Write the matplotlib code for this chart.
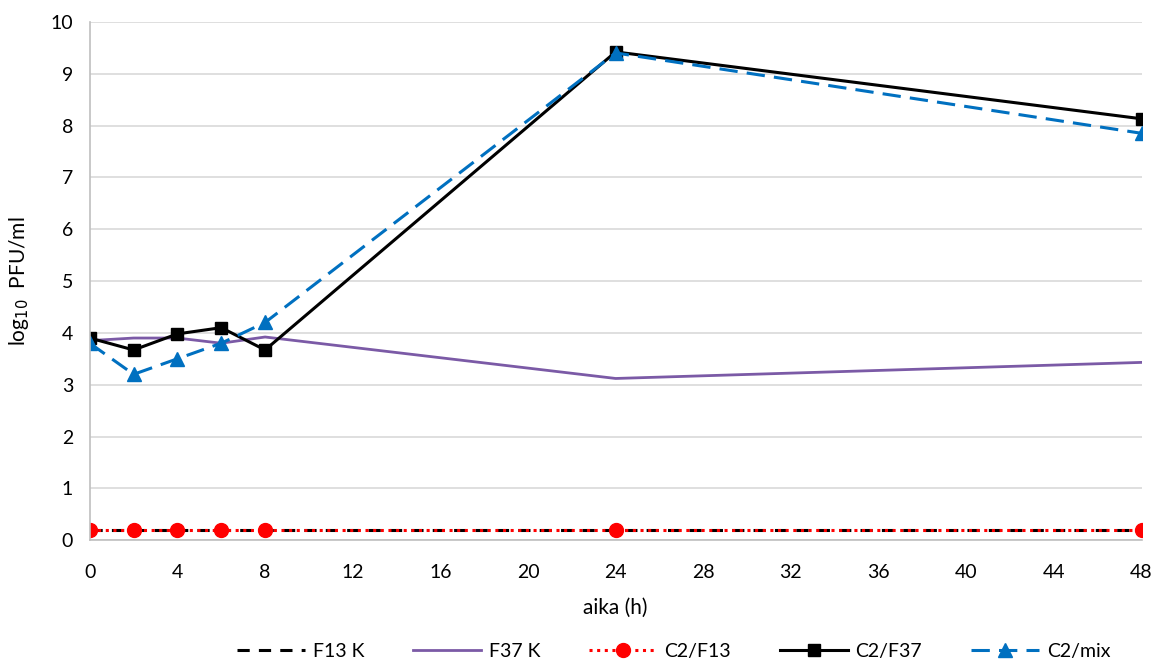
import matplotlib.pyplot as plt

# Phage titres over time (log10 PFU/ml)
hours = [0, 2, 4, 6, 8, 24, 48]
f13_k = [0.2, 0.2, 0.2, 0.2, 0.2, 0.2, 0.2]
f37_k = [3.85, 3.9, 3.9, 3.8, 3.92, 3.12, 3.43]
c2_f13 = [0.2, 0.2, 0.2, 0.2, 0.2, 0.2, 0.2]
c2_f37 = [3.9, 3.67, 3.98, 4.1, 3.67, 9.42, 8.13]
c2_mix = [3.8, 3.2, 3.5, 3.8, 4.2, 9.4, 7.85]

plt.rcParams["font.family"] = ["Lato", "DejaVu Sans"]
plt.rcParams["font.size"] = 12

fig = plt.figure(figsize=(11.66, 6.62), dpi=100)
ax = fig.add_axes([0.077, 0.184, 0.902, 0.783])

ax.plot(hours, f13_k, color="black", lw=2.2, ls=(0, (4, 3)), label="F13 K")
ax.plot(hours, f37_k, color="#7b5aa6", lw=2.0, label="F37 K")
ax.plot(hours, c2_f13, color="red", lw=2.2, ls=(0, (1, 1.5)), marker="o",
        ms=10, label="C2/F13")
ax.plot(hours, c2_f37, color="black", lw=2.2, marker="s", ms=9,
        label="C2/F37")
ax.plot(hours, c2_mix, color="#0070c0", lw=2.2, ls=(0, (6, 3)), marker="^",
        ms=10, label="C2/mix")

ax.set_xlim(0, 48)
ax.set_ylim(0, 10)
ax.set_xticks(range(0, 49, 4))
ax.set_yticks(range(0, 11))
ax.grid(axis="y", color="#d9d9d9", lw=1.2)
ax.set_axisbelow(True)
for side in ["top", "right"]:
    ax.spines[side].set_visible(False)
for side in ["left", "bottom"]:
    ax.spines[side].set_color("#bfbfbf")
    ax.spines[side].set_linewidth(1.2)
ax.tick_params(axis="y", length=0, pad=12, labelsize=14)
ax.tick_params(axis="x", length=0, pad=17, labelsize=14)

ax.set_xlabel("aika (h)", fontsize=15, labelpad=12)
ax.set_ylabel("log$_{10}$  PFU/ml", fontsize=15, labelpad=14)

ax.legend(loc="upper center", bbox_to_anchor=(0.555, -0.165), ncol=5,
          frameon=False, fontsize=14, handlelength=3.5, columnspacing=2.5,
          handletextpad=0.4)

fig.savefig("out.png")
